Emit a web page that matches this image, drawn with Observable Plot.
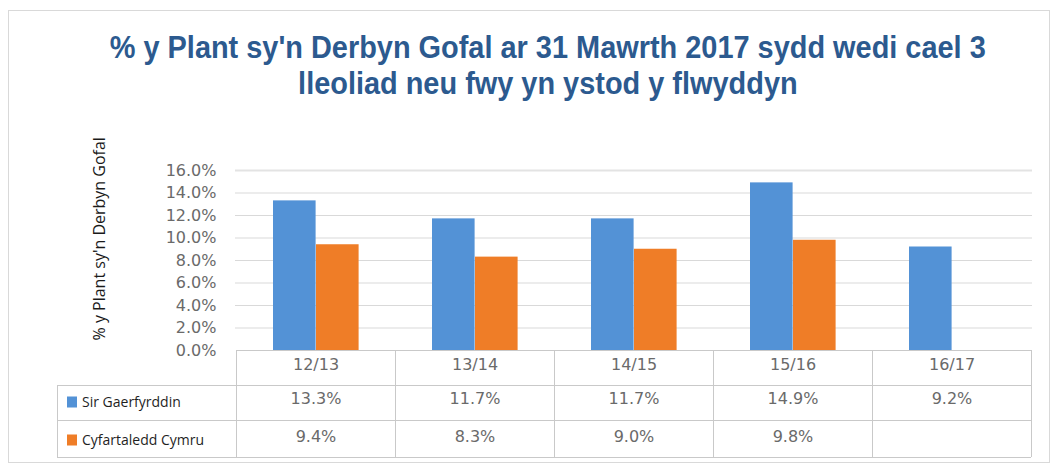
<!DOCTYPE html>
<html>
<head>
<meta charset="utf-8">
<script src="https://cdn.jsdelivr.net/npm/d3@7"></script>
<script src="https://cdn.jsdelivr.net/npm/@observablehq/plot@0.6"></script>
<style>
  html, body { margin: 0; padding: 0; background: #fff; }
  body { width: 1056px; height: 466px; overflow: hidden; position: relative; font-family: "Open Sans", sans-serif; }
  #frame { position: absolute; left: 8px; top: 10px; width: 1042px; height: 453px; border: 1px solid #d9d9d9; box-sizing: border-box; pointer-events: none; }
  #title { position: relative; height: 120px; box-sizing: border-box; padding-top: 31px; width: 1096px; text-align: center; color: #2c5a8f; font-weight: 700; font-size: 31px; font-family: "Liberation Sans", Arial, sans-serif; }
  #title .line { height: 34px; line-height: 34px; margin-bottom: 2px; white-space: nowrap; }
  #title .line span { display: inline-block; transform-origin: 50% 50%; }
  #chart svg { display: block; }
</style>
</head>
<body>
<div id="frame"></div>
<div id="title">
  <div class="line"><span id="t1">% y Plant sy'n Derbyn Gofal ar 31 Mawrth 2017 sydd wedi cael 3</span></div>
  <div class="line"><span id="t2">lleoliad neu fwy yn ystod y flwyddyn</span></div>
</div>
<div id="chart"></div>
<script>
// ---- data ----
const categories = ["12/13", "13/14", "14/15", "15/16", "16/17"];
const seriesNames = ["Sir Gaerfyrddin", "Cyfartaledd Cymru"];
const sirGaerfyrddin = [13.3, 11.7, 11.7, 14.9, 9.2];
const cyfartaleddCymru = [9.4, 8.3, 9.0, 9.8, null];
const yTicks = [0, 2, 4, 6, 8, 10, 12, 14, 16];
const yLabel = "% y Plant sy'n Derbyn Gofal";
const colors = ["#5392d6", "#ef7d27"];

// ---- title fit ----
const t1 = document.getElementById("t1"), t2 = document.getElementById("t2");
const w1 = t1.getBoundingClientRect().width;
const s = 876 / w1;
t1.style.transform = `scaleX(${s})`;
t2.style.transform = `scaleX(${s})`;

// ---- build rows ----
const rowA = categories.map((c, i) => ({cat: c, v: sirGaerfyrddin[i]})).filter(d => d.v != null);
const rowB = categories.map((c, i) => ({cat: c, v: cyfartaleddCymru[i]})).filter(d => d.v != null);
const fmt = v => v.toFixed(1) + "%";

const band = (1032 - 235) / categories.length;
const barW = 43;
const leftGap = 37;

const tickFont = "DejaVu Sans, sans-serif";
const plot = Plot.plot({
  width: 1056,
  height: 346,
  marginLeft: 235,
  marginRight: 24,
  marginTop: 50,
  marginBottom: 116,
  style: {background: "transparent", fontFamily: "Open Sans, sans-serif", overflow: "visible"},
  x: {domain: categories, padding: 0, axis: null},
  y: {domain: [0, 16], axis: null},
  marks: [
    Plot.ruleY(yTicks.filter(t => t > 0 && t < 16), {stroke: "#d9d9d9", strokeWidth: 1}),
    Plot.ruleY([16], {stroke: "#e3e3e3", strokeWidth: 2}),
    Plot.barY(rowA, {x: "cat", y: "v", fill: colors[0], insetLeft: leftGap, insetRight: band - leftGap - barW}),
    Plot.barY(rowB, {x: "cat", y: "v", fill: colors[1], insetLeft: leftGap + barW, insetRight: band - leftGap - 2 * barW}),
    Plot.text(yTicks, {y: d => d, text: d => d.toFixed(1) + "%", frameAnchor: "left", dx: -19, textAnchor: "end", fontSize: 16, fontFamily: tickFont, fill: "#6a6a6a"}),
    Plot.text([yLabel], {text: d => d, frameAnchor: "bottom-left", dx: -131, dy: -10, rotate: -90, textAnchor: "start", fontSize: 16, fill: "#1a1a1a"}),
    Plot.text(categories, {x: d => d, text: d => d, frameAnchor: "bottom", dy: 19, fontSize: 16, fontFamily: tickFont, fill: "#6a6a6a"}),
    Plot.text(rowA, {x: "cat", text: d => fmt(d.v), frameAnchor: "bottom", dy: 53, fontSize: 16, fontFamily: tickFont, fill: "#6a6a6a"}),
    Plot.text(rowB, {x: "cat", text: d => fmt(d.v), frameAnchor: "bottom", dy: 91, fontSize: 16, fontFamily: tickFont, fill: "#6a6a6a"})
  ]
});
document.getElementById("chart").appendChild(plot);

// ---- data table grid drawn from the x scale ----
const xs = plot.scale("x");
const bw = xs.bandwidth;
const edges = categories.map(c => xs.apply(c)).concat([xs.apply(categories[categories.length - 1]) + bw]);
const svg = d3.select(plot);
const g = svg.append("g").attr("stroke", "#c9c9c9").attr("stroke-width", 1).attr("shape-rendering", "crispEdges");
const yTop = 230, yR1 = 265, yR2 = 300, yBot = 337, xLeft = 57;
g.append("line").attr("x1", edges[0]).attr("x2", edges[edges.length - 1]).attr("y1", yTop).attr("y2", yTop);
[yR1, yR2, yBot].forEach(y => g.append("line").attr("x1", xLeft).attr("x2", edges[edges.length - 1]).attr("y1", y).attr("y2", y));
edges.forEach(x => g.append("line").attr("x1", x).attr("x2", x).attr("y1", yTop).attr("y2", yBot));
g.append("line").attr("x1", xLeft).attr("x2", xLeft).attr("y1", yR1).attr("y2", yBot);

// legend in the table's first column
const rowsY = [(yR1 + yR2) / 2, (yR2 + yBot) / 2 + 2];
seriesNames.forEach((name, i) => {
  svg.append("rect").attr("x", 67).attr("y", rowsY[i] - 6).attr("width", 10).attr("height", 11).attr("fill", colors[i]);
  svg.append("text").attr("x", 82).attr("y", rowsY[i]).attr("dy", "0.35em").attr("text-anchor", "start")
    .attr("font-family", "Open Sans, sans-serif").attr("font-size", 14).attr("fill", "#1f1f1f").text(name);
});
</script>
</body>
</html>
